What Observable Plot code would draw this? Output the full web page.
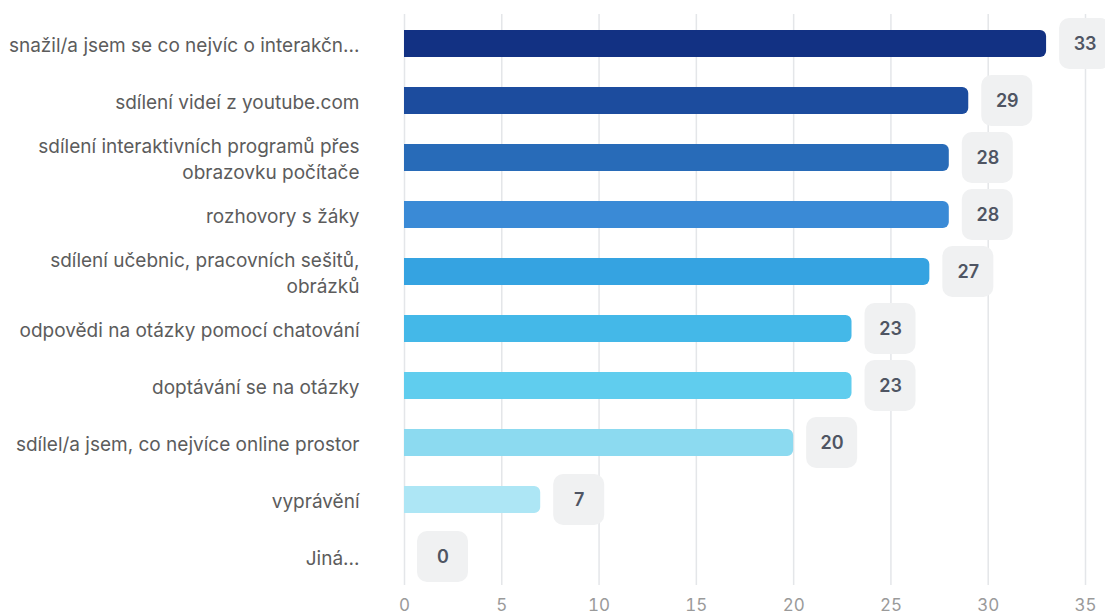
<!DOCTYPE html>
<html>
<head>
<meta charset="utf-8">
<script src="https://cdn.jsdelivr.net/npm/d3@7"></script>
<script src="https://cdn.jsdelivr.net/npm/@observablehq/plot@0.6"></script>
<style>
  html, body { margin: 0; padding: 0; background: #fff; }
  #chart { width: 1105px; height: 615px; }
</style>
</head>
<body>
<div id="chart"></div>
<script>
const categories = [
  "snažil/a jsem se co nejvíc o interakčn...",
  "sdílení videí z youtube.com",
  "sdílení interaktivních programů přes\nobrazovku počítače",
  "rozhovory s žáky",
  "sdílení učebnic, pracovních sešitů,\nobrázků",
  "odpovědi na otázky pomocí chatování",
  "doptávání se na otázky",
  "sdílel/a jsem, co nejvíce online prostor",
  "vyprávění",
  "Jiná..."
];
const values = [33, 29, 28, 28, 27, 23, 23, 20, 7, 0];
const barColors = ["#123183", "#1c4c9e", "#286bb8", "#3a8ad6", "#35a3e1", "#44b8e8", "#60cdee", "#8cdaf0", "#ade6f5", "#c8eff8"];
const xTicks = [0, 5, 10, 15, 20, 25, 30, 35];

const data = categories.map((label, i) => ({label, value: values[i], color: barColors[i]}));

const chart = Plot.plot({
  width: 1105,
  height: 615,
  marginLeft: 404,
  marginRight: 20,
  marginTop: 14,
  marginBottom: 30,
  style: {fontFamily: "Inter, 'Noto Sans', sans-serif", fontSize: "16px", background: "#fff"},
  x: {domain: [0, 35], axis: null, label: null},
  y: {domain: categories, paddingInner: 0.53, paddingOuter: 0.265, axis: null, label: null},
  color: {type: "identity"},
  marks: [
    Plot.gridX(xTicks, {stroke: "#e4e6e9", strokeOpacity: 1, strokeWidth: 1.5}),
    Plot.axisX(xTicks, {tickSize: 0, tickPadding: 13, fill: "#9a9a9a", fontSize: 17, label: null}),
    Plot.barX(data, {x: "value", y: "label", fill: "color", rx2: 6}),
    Plot.barX(data, {x1: "value", x2: "value", y: "label", fill: "#f0f1f2", insetLeft: 13, insetRight: -64, insetTop: -12, insetBottom: -12, rx: 10}),
    Plot.text(data, {x: "value", y: "label", text: d => String(d.value), dx: 38.5, fill: "#4f5563", fontWeight: 600, fontSize: 18}),
    Plot.text(data, {x: 0, y: "label", text: "label", textAnchor: "end", dx: -45, fill: "#5c5c5c", fontSize: 19, lineHeight: 1.37})
  ]
});
document.getElementById("chart").appendChild(chart);
</script>
</body>
</html>
